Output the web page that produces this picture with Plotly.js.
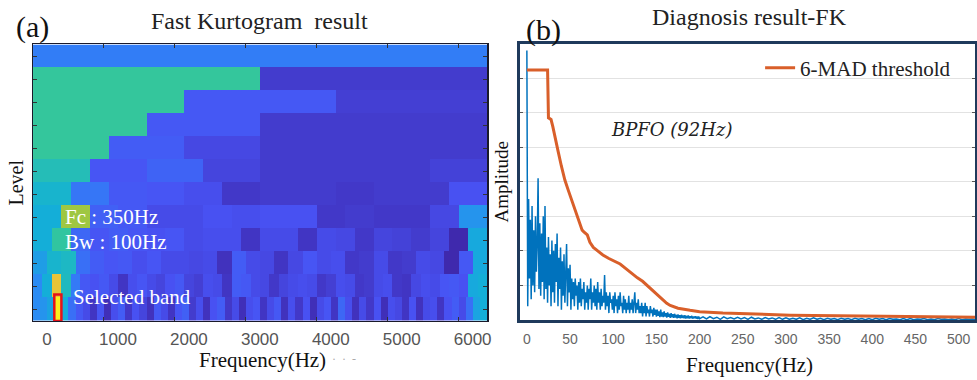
<!DOCTYPE html>
<html><head><meta charset="utf-8">
<script src="https://cdn.plot.ly/plotly-3.0.1.min.js"></script>
<style>html,body{margin:0;padding:0;background:#fff}#chart{width:977px;height:380px}</style>
</head><body><div id="chart"></div>
<script>
// ================= (a) Fast Kurtogram =================
const levelLabels = ['0','1','1.6','2','2.6','3','3.6','4','4.6','5','5.6','6'];
const kurtL0   = [0.26];
const kurtL1   = [0.56,0.07];
const kurtL1_6 = [0.56,0.16,0.08];
const kurtL2   = [0.56,0.16,0.07,0.07];
const kurtL2_6 = [0.56,0.17,0.11,0.07,0.07,0.07];
const kurtL3   = [0.50,0.15,0.19,0.10,0.07,0.07,0.07,0.09];
const kurtL3_6 = [0.45,0.24,0.16,0.15,0.13,0.06,0.07,0.07,0.06,0.07,0.07,0.14];
const kurtL4   = [0.42,0.70,0.18,0.16,0.12,0.12,0.14,0.13,0.14,0.14,0.06,0.07,0.06,0.06,0.11,0.33];
const kurtL4_6 = [0.42,0.55,0.20,0.15,0.17,0.15,0.14,0.15,0.12,0.13,0.13,0.05,0.12,0.12,0.05,0.12,0.11,0.06,0.10,0.09,0.07,0.10,0.01,0.40];
const kurtL5   = [0.36,0.45,0.47,0.22,0.17,0.15,0.16,0.13,0.15,0.12,0.12,0.11,0.12,0.04,0.17,0.12,
                  0.11,0.05,0.11,0.15,0.12,0.13,0.06,0.07,0.12,0.06,0.07,0.12,0.11,0.01,0.16,0.40];
const kurtL5_6 = [0.30,0.42,0.82,0.48,0.25,0.16,0.14,0.16,0.12,0.05,0.13,0.15,0.12,0.10,0.14,0.16,
                  0.10,0.08,0.13,0.12,0.05,0.17,0.16,0.12,0.11,0.06,0.10,0.12,0.13,0.12,0.06,0.08,
                  0.13,0.12,0.06,0.07,0.12,0.13,0.06,0.05,0.11,0.13,0.12,0.15,0.16,0.14,0.40,0.42];
const kurtL6   = [0.30,0.33,0.38,0.97,0.42,0.22,0.16,0.12,0.05,0.15,0.03,0.13,0.17,0.06,0.14,0.10,
                  0.04,0.16,0.12,0.05,0.15,0.18,0.07,0.13,0.04,0.14,0.17,0.06,0.12,0.03,0.13,0.15,
                  0.05,0.12,0.16,0.04,0.13,0.06,0.14,0.03,0.12,0.15,0.05,0.20,0.13,0.04,0.12,0.06,
                  0.14,0.03,0.13,0.11,0.05,0.14,0.04,0.12,0.13,0.05,0.14,0.17,0.12,0.22,0.38,0.42];
const kurtRows = [kurtL0,kurtL1,kurtL1_6,kurtL2,kurtL2_6,kurtL3,kurtL3_6,kurtL4,kurtL4_6,kurtL5,kurtL5_6,kurtL6];
const maxFreqA = 6400;           // Fs/2
const selFc = 350, selBw = 100;  // selected band
const selLevelIndex = 11;
const freqTicksA = [0,1000,2000,3000,4000,5000,6000];

// ================= (b) Diagnosis spectrum =================
const specLowStart = 0, specLowStep = 1;
const specLowAmp = [
 7.8,0.4,3.5,1.2,2.9,0.6,3.3,1.0,2.6,0.8,
 3.0,1.4,2.2,4.1,0.9,2.8,0.7,2.5,1.1,3.0,
 0.6,3.3,0.9,2.1,0.5,2.4,1.0,1.9,0.4,2.3,
 0.8,2.0,0.5,2.2,1.1,2.5,0.4,1.8,0.9,2.1,
 0.3,1.7,0.7,1.9,0.5,1.6,2.2,0.4,1.5,0.8,
 1.6,0.3,1.2,0.6,1.1,0.4,1.2,0.7,1.0,0.3,
 1.1,0.5,1.2,0.4,0.9,0.6,1.1,0.3,0.8,0.5,
 1.0,0.3,0.9,0.6,1.2,0.3,0.8,0.5,1.0,0.4,
 0.9,0.3,1.1,0.5,0.8,0.3,0.9,0.4,0.7,0.5,
 1.3,0.3,0.8,0.4,0.7,0.2,0.8,0.5,0.6,0.3,
 0.7,0.2,0.8,0.4,0.6,0.2,0.7,0.3,0.8,0.4,
 0.5,0.2,0.7,0.3,0.6,0.2,0.5,0.3,0.7,0.2,
 0.5,0.3,0.6,0.2,0.5,0.8,0.2,0.5,0.3,0.6,
 0.2,0.4,0.2,0.5,0.1,0.4,0.2,0.5,0.1,0.4,
 0.2,0.3,0.1,0.4,0.2,0.3,0.1,0.35,0.15,0.3,
 0.1,0.3,0.12,0.25,0.08,0.3,0.1,0.22,0.08,0.25,
 0.1,0.2,0.07,0.22,0.09,0.18,0.06,0.2,0.08,0.17,
 0.06,0.18,0.07,0.15,0.05,0.16,0.06,0.14,0.05,0.15,
 0.06,0.13,0.05,0.14,0.04,0.12,0.05,0.13,0.04,0.11,
 0.05,0.12,0.04,0.1,0.05,0.11,0.04,0.1,0.03,0.1,
 0.04];
const specHighStart = 204, specHighStep = 4;
const specHighAmp = [
 0.09,0.03,0.10,0.04,0.08,0.02,0.09,0.04,0.07,0.03,0.08,0.03,
 0.07,0.02,0.08,0.03,0.06,0.02,0.07,0.03,0.06,0.02,0.07,0.02,
 0.06,0.02,0.05,0.02,0.06,0.01,0.05,0.02,0.06,0.02,0.05,0.01,
 0.05,0.02,0.04,0.01,0.05,0.02,0.04,0.01,0.05,0.02,0.04,0.01,
 0.04,0.01,0.05,0.02,0.04,0.01,0.04,0.02,0.03,0.01,0.04,0.01,
 0.04,0.01,0.03,0.02,0.04,0.01,0.03,0.01,0.04,0.02,0.03,0.01,
 0.03,0.01,0.04,0.01,0.03,0.02,0.03,0.01];
const threshFreq = [0,24,25,28,30,33,36,40,44,48,52,56,60,64,66,70,73,77,82,88,95,102,108,115,122,128,134,137,142,147,150,157,162,166,175,189,200,227,260,305,360,420,470,520];
const threshAmp  = [7.23,7.23,5.85,5.8,5.6,5.2,4.9,4.45,4.05,3.75,3.47,3.15,2.85,2.6,2.55,2.46,2.25,2.1,2.0,1.88,1.78,1.7,1.62,1.48,1.33,1.22,1.12,1.05,0.92,0.82,0.76,0.58,0.48,0.42,0.34,0.28,0.24,0.2,0.17,0.14,0.12,0.1,0.09,0.08];
const freqTicksB = [0,50,100,150,200,250,300,350,400,450,500];
const bpfoFreq = 92;

// ---------- build heatmap grid ----------
const nCols = 192;
const zGrid = kurtRows.map(row => {
  const rep = nCols / row.length;
  const out = [];
  row.forEach(v => { for (let k = 0; k < rep; k++) out.push(v); });
  return out;
});
const parula = [[0,'#3E26A8'],[0.1429,'#4852F4'],[0.2857,'#2D87F7'],[0.4286,'#12B1D6'],
                [0.5714,'#37C897'],[0.7143,'#ABC739'],[0.8571,'#FEC338'],[1,'#F9FB15']];

const specFreq = specLowAmp.map((_, i) => specLowStart + i*specLowStep)
  .concat(specHighAmp.map((_, i) => specHighStart + i*specHighStep));
const specAmp = specLowAmp.concat(specHighAmp);

const serif = 'Liberation Serif, Times New Roman, serif';
const narrow = 'Liberation Sans Narrow, Arial Narrow, Liberation Sans, sans-serif';

const traces = [
  {type:'heatmap', z:zGrid, x0:maxFreqA/nCols/2, dx:maxFreqA/nCols, y0:0, dy:1,
   colorscale:parula, zmin:0, zmax:1, zsmooth:false, showscale:false, hoverinfo:'skip',
   xaxis:'x', yaxis:'y'},
  {type:'scatter', mode:'lines', x:specFreq, y:specAmp, line:{color:'#0072BD', width:1.5},
   showlegend:false, xaxis:'x2', yaxis:'y2', hoverinfo:'skip'},
  {type:'scatter', mode:'lines', x:threshFreq, y:threshAmp, name:'6-MAD threshold',
   line:{color:'#D95F2A', width:3}, xaxis:'x2', yaxis:'y2', hoverinfo:'skip'}
];

const layout = {
  width:977, height:380, margin:{l:0,r:0,t:0,b:0},
  paper_bgcolor:'#ffffff', plot_bgcolor:'#ffffff',
  font:{family:serif},
  showlegend:true,
  legend:{x:0.778, y:0.875, xanchor:'left', yanchor:'top', bgcolor:'rgba(0,0,0,0)',
          font:{family:serif, size:21, color:'#222'}},
  xaxis:{domain:[0.0338,0.4985], anchor:'y', range:[0,maxFreqA], tickvals:freqTicksA,
         ticks:'inside', ticklen:4, tickcolor:'#333', showline:true, linecolor:'#1a1a2a', linewidth:1.5,
         mirror:'ticks', showgrid:false, zeroline:false, ticklabelshift:14, ticklabelstandoff:2,
         tickfont:{family:narrow, size:17, color:'#555'}},
  yaxis:{domain:[0.1553,0.8829], anchor:'x', range:[11.5,-0.5], tickvals:levelLabels.map((_,i)=>i),
         showticklabels:false, ticks:'inside', ticklen:4, tickcolor:'#333', showline:true,
         linecolor:'#1a1a2a', linewidth:1.5, mirror:'ticks', showgrid:false, zeroline:false,
         title:{text:'Level', font:{family:serif, size:20, color:'#111'}, standoff:2}},
  xaxis2:{domain:[0.5322,0.998], anchor:'y2', range:[-8,519], tickvals:freqTicksB,
          ticks:'', showline:true, linecolor:'#1F3A5C', linewidth:3, mirror:true,
          showgrid:false, zeroline:false, ticklabelstandoff:4,
          tickfont:{family:narrow, size:14, color:'#666'}},
  xaxis3:{overlaying:'x2', anchor:'y2', range:[-7.8,497.8], dtick:100, tick0:0,
          showgrid:true, gridcolor:'#e2e2e2', gridwidth:1, showticklabels:false, ticks:'',
          showline:false, zeroline:false},
  yaxis2:{domain:[0.1579,0.8855], anchor:'x2', range:[0,8], dtick:1, showticklabels:false,
          ticks:'inside', ticklen:3, tickcolor:'#555', showline:true, linecolor:'#1F3A5C',
          linewidth:3, mirror:'ticks', showgrid:true, gridcolor:'#e2e2e2', zeroline:false,
          title:{text:'Amplitude', font:{family:serif, size:19, color:'#111'}, standoff:4}},
  shapes:[
    {type:'rect', xref:'x', yref:'y', x0:selFc-selBw/2, x1:selFc+selBw/2,
     y0:selLevelIndex+0.5, y1:selLevelIndex-0.65, line:{color:'#E3121B', width:2.5}, fillcolor:'rgba(0,0,0,0)'}
  ],
  annotations:[
    {xref:'paper', yref:'paper', x:14/977, y:(380-27)/380, xanchor:'left', yanchor:'middle',
     text:'(a)', showarrow:false, font:{family:serif, size:30, color:'#111'}},
    {xref:'paper', yref:'paper', x:524/977, y:(380-30)/380, xanchor:'left', yanchor:'middle',
     text:'(b)', showarrow:false, font:{family:serif, size:30, color:'#111'}},
    {xref:'paper', yref:'paper', x:259/977, y:(380-21)/380, xanchor:'center', yanchor:'middle',
     text:'Fast Kurtogram  result', showarrow:false, font:{family:serif, size:24, color:'#222'}},
    {xref:'paper', yref:'paper', x:749/977, y:(380-17)/380, xanchor:'center', yanchor:'middle',
     text:'Diagnosis result-FK', showarrow:false, font:{family:serif, size:24, color:'#222'}},
    {xref:'paper', yref:'paper', x:262/977, y:(380-360)/380, xanchor:'center', yanchor:'middle',
     text:'Frequency(Hz)', showarrow:false, font:{family:serif, size:21, color:'#111'}},
    {xref:'paper', yref:'paper', x:749/977, y:(380-365)/380, xanchor:'center', yanchor:'middle',
     text:'Frequency(Hz)', showarrow:false, font:{family:serif, size:21, color:'#111'}},
    {xref:'x', yref:'y', x:(63-33)/454*maxFreqA, y:7, xanchor:'left', yanchor:'middle',
     text:'Fc : '+selFc+'Hz', showarrow:false, font:{family:serif, size:21, color:'#ffffff'}},
    {xref:'x', yref:'y', x:(63-33)/454*maxFreqA, y:8.07, xanchor:'left', yanchor:'middle',
     text:'Bw : '+selBw+'Hz', showarrow:false, font:{family:serif, size:21, color:'#ffffff'}},
    {xref:'x', yref:'y', x:(71-33)/454*maxFreqA, y:10.45, xanchor:'left', yanchor:'middle',
     text:'Selected band', showarrow:false, font:{family:serif, size:21, color:'#ffffff'}},
    {xref:'paper', yref:'paper', x:330/977, y:(380-359)/380, xanchor:'left', yanchor:'middle',
     text:'·  ·  -', showarrow:false, font:{family:serif, size:12, color:'#aaaaaa'}},
    {xref:'x2', yref:'y2', x:168, y:5.5, xanchor:'center', yanchor:'middle',
     text:'<i>BPFO (' + bpfoFreq + 'Hz)</i>', showarrow:false,
     font:{family:'DejaVu Serif, serif', size:18, color:'#222'}}
  ]
};

Plotly.newPlot('chart', traces, layout, {staticPlot:true, displayModeBar:false});
</script>
</body></html>
